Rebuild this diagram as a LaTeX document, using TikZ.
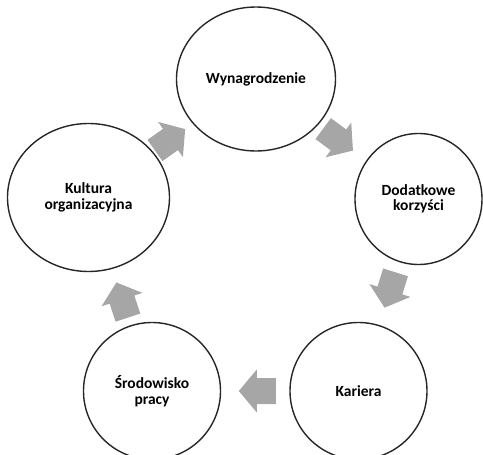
\documentclass[tikz,border=0pt]{standalone}
\usepackage{fontspec}
\setmainfont{Carlito}
\usetikzlibrary{shapes.geometric}
\definecolor{arrowgray}{HTML}{A6A6A6}
\begin{document}
\begin{tikzpicture}[x=1pt,y=-1pt,
  stage/.style={ellipse, draw=black!85, line width=1.4pt, inner sep=0pt, align=center,
    font=\fontsize{15.5}{15.5}\selectfont\bfseries},
  barrow/.pic={\fill[arrowgray] (18.5,0) -- (0.5,21.5) -- (0.5,13) -- (-18.5,13)
    -- (-18.5,-13) -- (0.5,-13) -- (0.5,-21.5) -- cycle;}
]
\useasboundingbox (0,0) rectangle (483,455);
\node[stage, minimum width=159pt, minimum height=144pt] (wyn) at (256,79) {Wynagrodzenie};
\node[stage, minimum width=127pt, minimum height=131pt] (dod) at (418.5,199) {Dodatkowe\\korzyści};
\node[stage, minimum width=137pt, minimum height=137pt] (kar) at (358.5,391) {Kariera};
\node[stage, minimum width=137pt, minimum height=137pt] (sro) at (152,391) {Środowisko\\pracy};
\node[stage, minimum width=162pt, minimum height=148pt] (kul) at (88.5,197.5) {Kultura\\organizacyjna};
\path (kul.center) -- (wyn.center) pic[pos=0.487, sloped, allow upside down]{barrow};
\path (wyn.center) -- (dod.center) pic[pos=0.505, sloped, allow upside down]{barrow};
\path (dod.center) -- (kar.center) pic[pos=0.474, sloped, allow upside down]{barrow};
\path (kar.center) -- (sro.center) pic[pos=0.49, sloped, allow upside down]{barrow};
\path (sro.center) -- (kul.center) pic[pos=0.47, sloped, allow upside down]{barrow};
\end{tikzpicture}
\end{document}
